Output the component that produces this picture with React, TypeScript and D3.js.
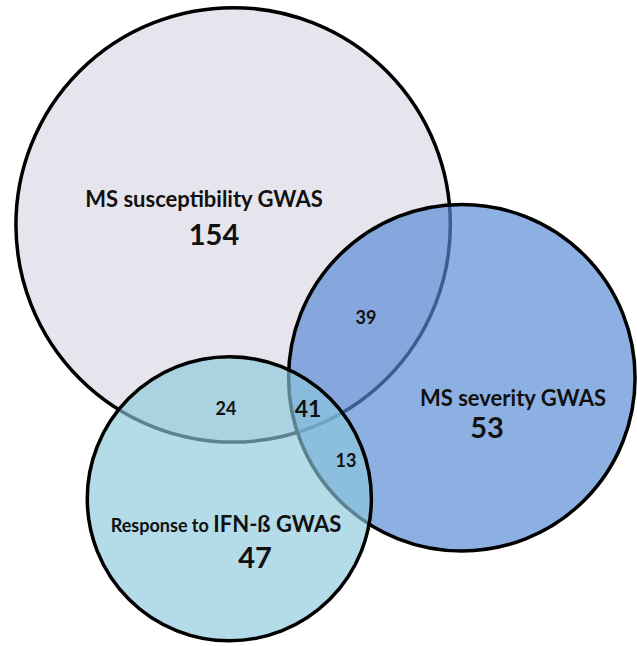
import { useRef, useEffect } from 'react'
import * as d3 from 'd3'

// sets and their exclusive counts
const SET_NAMES = ['MS susceptibility GWAS', 'MS severity GWAS', 'Response to IFN-ß GWAS']
const SET_COUNTS = [154, 53, 47]
// overlap counts
const OVERLAP_LABELS = ['39', '24', '41', '13']

// layout in abstract units (0..100 across, 0..~101 down)
const CIRCLE_CX = [36.6, 72.5, 36.0]
const CIRCLE_CY = [35.3, 59.3, 78.3]
const CIRCLE_R = [34.1, 27.2, 22.3]
const CIRCLE_FILL = ['#e6e4ec', 'rgba(87,139,214,0.68)', 'rgba(140,200,220,0.65)']

const W = 637
const H = 646

export default function App() {
  const svgRef = useRef<SVGSVGElement>(null)

  useEffect(() => {
    if (!svgRef.current) return
    const svg = d3.select(svgRef.current)
    svg.selectAll('*').remove()

    const x = d3.scaleLinear().domain([0, 100]).range([0, W])
    const y = d3.scaleLinear().domain([0, 100]).range([0, W])
    const r = (v: number) => x(v) - x(0)

    const g = svg.append('g')

    SET_NAMES.forEach((_, i) => {
      g.append('circle')
        .attr('cx', x(CIRCLE_CX[i]))
        .attr('cy', y(CIRCLE_CY[i]))
        .attr('r', r(CIRCLE_R[i]))
        .attr('fill', CIRCLE_FILL[i])
        .attr('stroke', '#000')
        .attr('stroke-width', 3.5)
    })

    const font = 'Lato, "Open Sans", sans-serif'
    const txt = (tx: number, ty: number, s: string, size: number, weight = 700) =>
      g.append('text')
        .attr('x', tx).attr('y', ty)
        .attr('text-anchor', 'middle')
        .attr('font-family', font)
        .attr('font-weight', weight)
        .attr('font-size', size)
        .attr('fill', '#111')
        .text(s)

    // set titles
    txt(204, 207, SET_NAMES[0], 22)
    txt(214, 245, String(SET_COUNTS[0]), 29)
    txt(513, 406, SET_NAMES[1], 22)
    txt(487, 438, String(SET_COUNTS[1]), 29)

    const resp = g.append('text')
      .attr('x', 226).attr('y', 532)
      .attr('text-anchor', 'middle')
      .attr('font-family', font)
      .attr('font-weight', 700)
      .attr('fill', '#111')
    const parts = SET_NAMES[2].split(' ')
    resp.append('tspan').attr('font-size', 18).text(parts.slice(0, 2).join(' ') + ' ')
    resp.append('tspan').attr('font-size', 22).text(parts.slice(2).join(' '))
    txt(255, 568, String(SET_COUNTS[2]), 29)

    // overlaps
    txt(366, 324, OVERLAP_LABELS[0], 18)
    txt(226, 415, OVERLAP_LABELS[1], 18)
    txt(308, 417, OVERLAP_LABELS[2], 23)
    txt(346, 467, OVERLAP_LABELS[3], 18)
  }, [])

  return (
    <svg
      ref={svgRef}
      width={W}
      height={H}
      style={{ position: 'absolute', left: 0, top: 0, background: '#fff' }}
    />
  )
}
